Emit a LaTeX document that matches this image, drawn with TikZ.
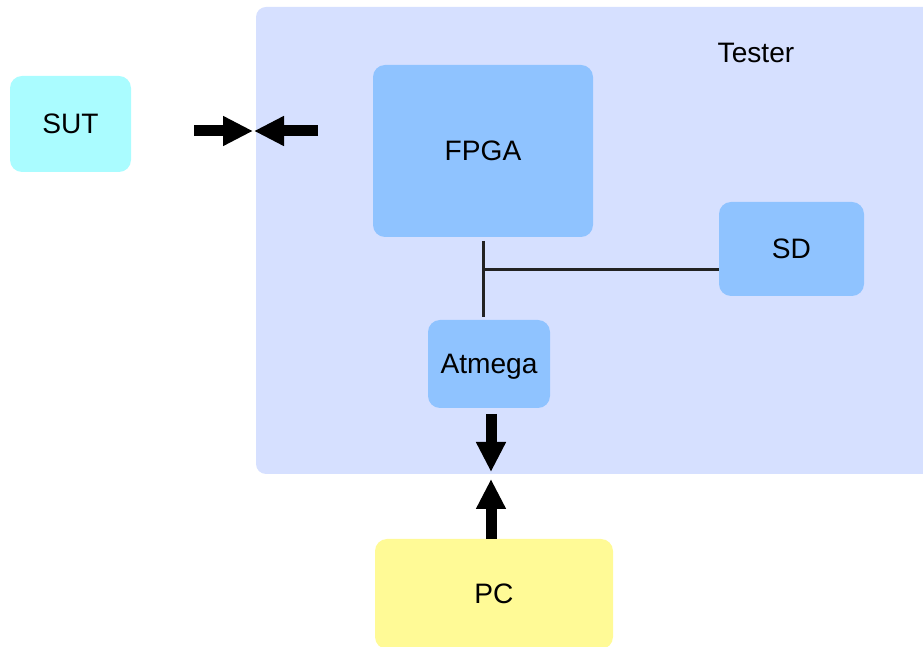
\documentclass[tikz,border=0pt]{standalone}
\usepackage{fontspec}
\setmainfont{Liberation Sans}
\usetikzlibrary{arrows.meta}
\definecolor{testerColor}{HTML}{D6E0FF}
\definecolor{sutColor}{HTML}{AAFCFF}
\definecolor{chipColor}{HTML}{8FC3FF}
\definecolor{pcColor}{HTML}{FFFA96}
\definecolor{busColor}{HTML}{222222}
\begin{document}
\begin{tikzpicture}[box/.style={rounded corners=0.24cm, inner sep=0, outer sep=0},
		bigarrow/.style={line width=0.22cm, -{Triangle[length=0.6cm,width=0.56cm]}},
		bus/.style={busColor, line width=0.06cm},
		font=\fontsize{16}{19}\selectfont]
	\useasboundingbox (0,0) rectangle (18.46,-12.94);
	\node[box, fill=testerColor, rounded corners=0.2cm, minimum width=13.78cm, minimum height=9.34cm] (tester) at (12.01,-4.81) {};
	\node (testerlabel) at (15.12,-1.06) {Tester};
	\node[box, fill=sutColor, minimum width=2.42cm, minimum height=1.92cm] (sut) at (1.41,-2.48) {SUT};
	\node[box, fill=chipColor, minimum width=4.40cm, minimum height=3.44cm, text depth=0pt] (fpga) at (9.66,-3.02) {FPGA};
	\node[box, fill=chipColor, minimum width=2.90cm, minimum height=1.88cm] (sd) at (15.83,-4.98) {SD};
	\node[box, fill=chipColor, minimum width=2.44cm, minimum height=1.76cm, text depth=0pt] (atmega) at (9.78,-7.28) {Atmega};
	\node[box, fill=pcColor, minimum width=4.76cm, minimum height=2.20cm] (pc) at (9.88,-11.88) {PC};
	
	\coordinate (junction) at (9.66,-5.40);
	\coordinate (sutport) at (3.88,-2.62);
	\coordinate (testerport) at (6.36,-2.62);
	
	\draw[bus, shorten <=0.08cm, shorten >=0.06cm] (fpga.south) -- (fpga.south |- atmega.north);
	\draw[bus] (junction) -- (junction -| sd.west);
	
	\draw[bigarrow, shorten >=0.06cm] (sutport) -- (sutport -| tester.west);
	\draw[bigarrow, shorten >=-0.04cm] (testerport) -- (testerport -| tester.west);
	\draw[bigarrow, shorten <=0.12cm, shorten >=0.04cm] ([xshift=0.04cm]atmega.south) -- ([xshift=0.04cm]atmega.south |- tester.south);
	\draw[bigarrow, shorten >=0.1cm] ([xshift=-0.06cm]pc.north) -- ([xshift=-0.06cm]pc.north |- tester.south);
\end{tikzpicture}
\end{document}
